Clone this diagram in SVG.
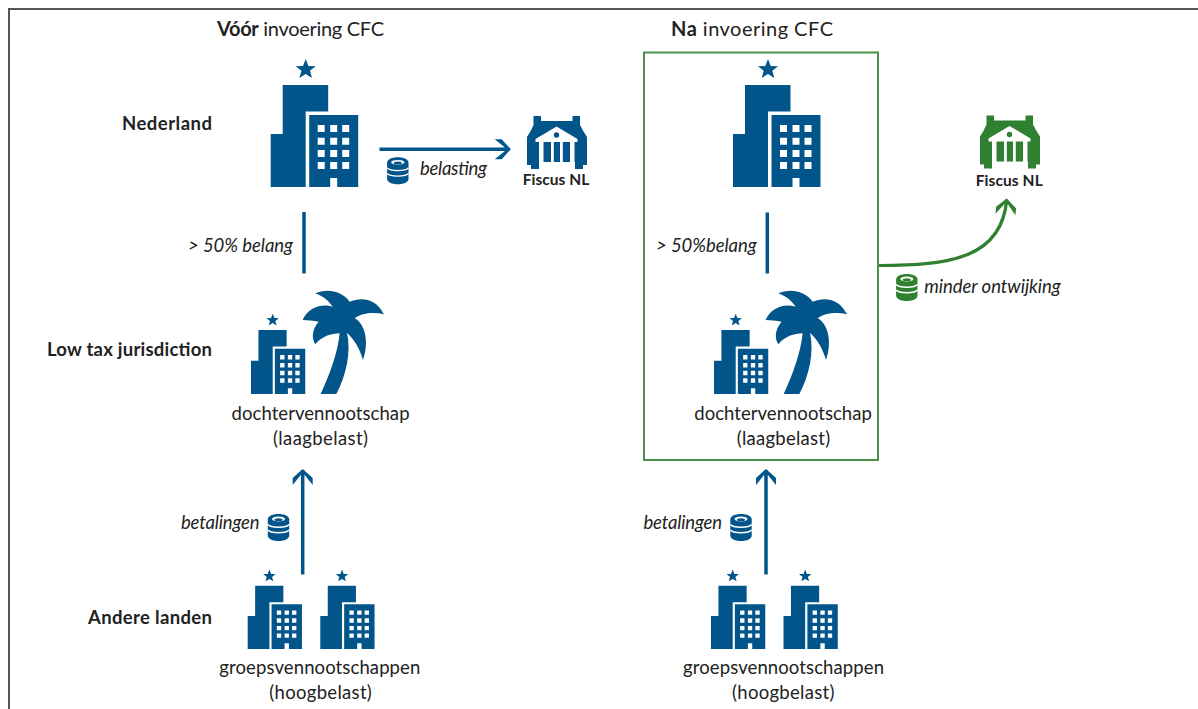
<svg xmlns="http://www.w3.org/2000/svg" width="1198" height="709" viewBox="0 0 1198 709">
<style>
text{font-family:"Lato","Noto Sans","Liberation Sans",sans-serif;fill:#222;font-size:18.5px}
.b{font-weight:700}
.i{font-style:italic}
.t{font-size:20px}
.f{font-weight:700;font-size:15.500px}
.blue{fill:#01558b}
.green{fill:#2f8030}
.l{fill:none;stroke:#01558b;stroke-width:3.5}
.g{fill:none;stroke:#2f8030;stroke-width:3.200}
</style>
<defs>
<marker id="ab" markerUnits="userSpaceOnUse" markerWidth="22" markerHeight="24" viewBox="-19 -12 22 24" refX="0" refY="0" orient="auto">
<path d="M-15-10h7L1 0-8 10h-7L-5 2V-2Z" fill="#01558b"/>
</marker>
<marker id="ag" markerUnits="userSpaceOnUse" markerWidth="22" markerHeight="24" viewBox="-19 -12 22 24" refX="0" refY="0" orient="auto">
<path d="M-15-10h7L1 0-8 10h-7L-5 2V-2Z" fill="#2f8030"/>
</marker>
<g id="bld">
<polygon points="35,-26 37.700,-19 45,-18.700 39.300,-14.200 41.300,-7 35,-11 28.700,-7 30.700,-14.200 25,-18.700 32.300,-19"/>
<path d="M0 49H12V0H57.500V26.500H35V102H0Z"/>
<path fill-rule="evenodd" d="M38.500 30H87.500V102H66.500V93H59.500V102H38.500ZM47 40v7h7v-7ZM59.500 40v7h7v-7ZM71.500 40v7h7v-7ZM47 52.700v7h7v-7ZM59.500 52.700v7h7v-7ZM71.500 52.700v7h7v-7ZM47 65v7h7v-7ZM59.500 65v7h7v-7ZM71.500 65v7h7v-7ZM47 77v7h7v-7ZM59.500 77v7h7v-7ZM71.500 77v7h7v-7Z"/>
</g>
<path id="palm" d="M68 327C95 270 120 200 125 145C100 145 70 155 52 178C38 155 45 130 62 110C45 107 30 106 14 105C30 65 75 55 104 65C90 45 72 32 52 25C85 10 130 15 155 50C190 35 235 40 258 88C225 80 190 85 170 100C200 115 215 170 195 225C185 190 170 165 147 143C160 200 145 270 115 327Z"/>
<g id="fiscus">
<path d="M6.500 0H14V5H45.500V0H53V9Q56 15 60 21V49H56V53H48V46H12V53H4V49H0V21Q4 15 6.500 9Z"/>
<path fill="#fff" d="M29.500 10.500L50.500 23V26H8.500V23ZM12 26H16.500V47H12ZM24 26H26.800V47H24ZM33 26H35.800V47H33ZM43 26H47.500V47H43Z"/>
<circle cx="29.500" cy="19" r="2.700"/>
</g>
<g id="coin">
<path d="M-10.700 5.500C-10.700 2.200-6 0 0 0S10.700 2.200 10.700 5.500V21.500C10.700 24.800 6 27 0 27S-10.700 24.800-10.700 21.500Z"/>
<ellipse cy="5" rx="6.500" ry="2.400" fill="#fff"/>
<ellipse cy="5.800" rx="4" ry="1.500"/>
<path d="M-10.700 10.500C-8 14.200 8 14.200 10.700 10.500M-10.700 16C-8 19.700 8 19.700 10.700 16" fill="none" stroke="#fff" stroke-width="1.400"/>
</g>
</defs>
<rect width="1198" height="709" fill="#fff"/>
<path d="M1198 9H9V709" fill="none" stroke="#555" stroke-width="2"/>
<rect id="cfc-box" x="644" y="52.500" width="234" height="407.500" fill="none" stroke="#4b9149" stroke-width="2"/>

<g id="titles">
<text class="t" x="217" y="36" textLength="167"><tspan class="b">Vóór</tspan> invoering CFC</text>
<text class="t" x="671" y="36" textLength="162"><tspan class="b">Na</tspan> invoering CFC</text>
</g>
<g id="row-labels">
<text class="b" x="122" y="130" textLength="90">Nederland</text>
<text class="b" x="47" y="355.500" textLength="165">Low tax jurisdiction</text>
<text class="b" x="88" y="624" textLength="124">Andere landen</text>
</g>

<g id="connectors">
<path class="l" d="M379.500 149.300H509.700" marker-end="url(#ab)"/>
<path class="l" d="M304 212V273.500"/>
<path class="l" d="M767.300 212.500V273.500"/>
<path class="l" d="M302.700 574.500V470" marker-end="url(#ab)"/>
<path class="l" d="M766 574.500V470" marker-end="url(#ab)"/>
<path class="g" d="M879 265.500C950 265.500 1002 258 1006.700 199.500" marker-end="url(#ag)"/>
</g>

<g id="nl-left"><use href="#bld" class="blue" transform="translate(270.700 85)"/></g>
<g id="nl-right"><use href="#bld" class="blue" transform="translate(733 85)"/></g>
<g id="fiscus-left">
<use href="#fiscus" class="blue" transform="translate(527 116)"/>
<text class="f" x="522.700" y="185" textLength="66.500">Fiscus NL</text>
</g>
<g id="fiscus-right">
<use href="#fiscus" class="green" transform="translate(980 115.500)"/>
<text class="f" x="975.700" y="186" textLength="67">Fiscus NL</text>
</g>
<g id="belasting">
<use href="#coin" class="blue" x="397.800" y="157.300"/>
<text class="i" x="420" y="175" textLength="67">belasting</text>
</g>
<g id="minder">
<use href="#coin" class="green" x="906.800" y="274"/>
<text class="i" x="924.300" y="292.700" textLength="136.500">minder ontwijking</text>
</g>
<g id="belang-left"><text class="i" x="188" y="251.700" textLength="105">&gt; 50% belang</text></g>
<g id="belang-right"><text class="i" x="656" y="251.700" textLength="100.700">&gt; 50%belang</text></g>
<g id="dochter-left">
<use href="#bld" class="blue" transform="translate(251 330) scale(.62 .627)"/>
<use href="#palm" class="blue" transform="translate(298 285) scale(.3333)"/>
<text x="231.500" y="420" textLength="178">dochtervennootschap</text>
<text x="273" y="445" textLength="95">(laagbelast)</text>
</g>
<g id="dochter-right">
<use href="#bld" class="blue" transform="translate(714 330) scale(.62 .627)"/>
<use href="#palm" class="blue" transform="translate(761 285) scale(.3333)"/>
<text x="694.300" y="420" textLength="177.500">dochtervennootschap</text>
<text x="736.700" y="445" textLength="93.500">(laagbelast)</text>
</g>
<g id="betalingen-left">
<text class="i" x="181" y="529.300" textLength="78.500">betalingen</text>
<use href="#coin" class="blue" x="278.500" y="514"/>
</g>
<g id="betalingen-right">
<text class="i" x="643.500" y="529.300" textLength="78.500">betalingen</text>
<use href="#coin" class="blue" x="741" y="514"/>
</g>
<g id="groep-left">
<use href="#bld" class="blue" transform="translate(247.700 585.700) scale(.62)"/>
<use href="#bld" class="blue" transform="translate(320.300 585.700) scale(.62)"/>
<text x="219.300" y="674" textLength="201">groepsvennootschappen</text>
<text x="269.300" y="699.300" textLength="102.500">(hoogbelast)</text>
</g>
<g id="groep-right">
<use href="#bld" class="blue" transform="translate(711 585.700) scale(.62)"/>
<use href="#bld" class="blue" transform="translate(783.500 585.700) scale(.62)"/>
<text x="683" y="674" textLength="201">groepsvennootschappen</text>
<text x="732" y="699.300" textLength="102.500">(hoogbelast)</text>
</g>
</svg>
